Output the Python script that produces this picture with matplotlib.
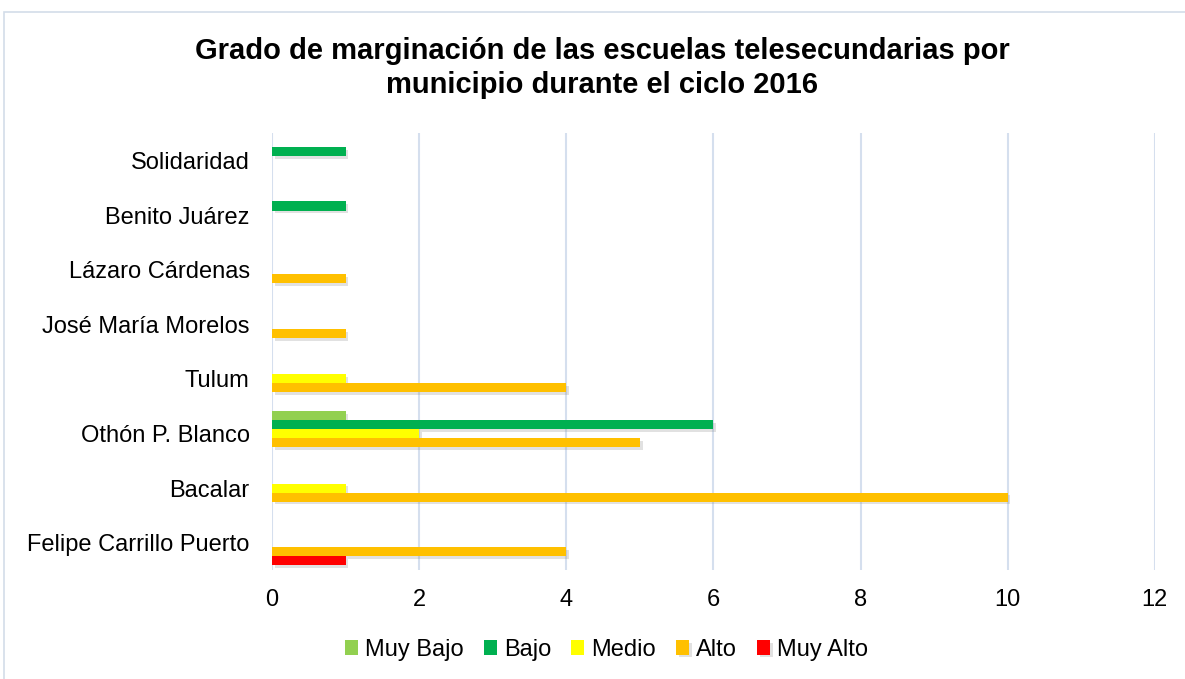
import numpy as np
import matplotlib.pyplot as plt
import matplotlib.patheffects as pe
from matplotlib.patches import Rectangle

plt.rcParams['font.family'] = ['Liberation Sans', 'DejaVu Sans']

# categories, bottom to top
municipios = ['Felipe Carrillo Puerto', 'Bacalar', 'Othón P. Blanco', 'Tulum',
              'José María Morelos', 'Lázaro Cárdenas', 'Benito Juárez', 'Solidaridad']
series = ['Muy Bajo', 'Bajo', 'Medio', 'Alto', 'Muy Alto']
muy_bajo = [0, 0, 1, 0, 0, 0, 0, 0]
bajo = [0, 0, 6, 0, 0, 0, 1, 1]
medio = [0, 1, 2, 1, 0, 0, 0, 0]
alto = [4, 10, 5, 4, 1, 1, 0, 0]
muy_alto = [1, 0, 0, 0, 0, 0, 0, 0]
colores = ['#92d050', '#00b050', '#ffff00', '#ffc000', '#ff0000']

fig = plt.figure(figsize=(11.85, 6.79), dpi=100)
fig.patches.append(Rectangle((0.0035, -0.01), 1.2, 0.993, transform=fig.transFigure,
                             fill=False, edgecolor='#d3dde9', linewidth=1.2))
ax = fig.add_axes([0.2295, 0.1605, 0.745, 0.6435])

y = np.arange(len(municipios))
h = 0.165
shadow = [pe.SimplePatchShadow(offset=(2, -2), alpha=0.25, shadow_rgbFace='#888888'), pe.Normal()]
for i, (name, vals) in enumerate(zip(series, [muy_bajo, bajo, medio, alto, muy_alto])):
    bars = ax.barh(y + (2 - i) * h, vals, height=h, color=colores[i], label=name)
    for b in bars:
        if b.get_width() > 0:
            b.set_path_effects(shadow)

ax.set_xlim(0, 12)
ax.set_ylim(-0.5, len(municipios) - 0.5)
ax.set_xticks(range(0, 13, 2))
ax.set_yticks(y)
ax.set_yticklabels(municipios)
ax.tick_params(length=0, labelsize=17, colors='black')
ax.tick_params(axis='y', pad=16)
ax.tick_params(axis='x', pad=14)
ax.grid(axis='x', color='#d5dfee', linewidth=1.5)
ax.set_axisbelow(True)
for s in ax.spines.values():
    s.set_visible(False)

fig.suptitle('Grado de marginación de las escuelas telesecundarias por\nmunicipio durante el ciclo 2016',
             x=0.508, y=0.945, fontsize=21, fontweight='bold', linespacing=1.27)

fig.legend(loc='center', bbox_to_anchor=(0.512, 0.043), ncol=5, frameon=False, fontsize=17,
           handlelength=0.55, handleheight=0.55, handletextpad=0.3, columnspacing=0.85)

fig.savefig('out.png', dpi=100)
